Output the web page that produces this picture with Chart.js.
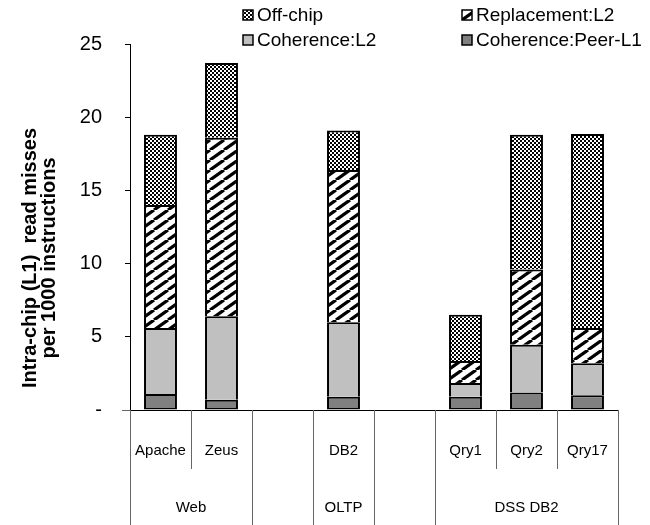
<!DOCTYPE html>
<html lang="en">
<head>
    <meta charset="UTF-8">
    <title>Intra-chip read misses</title>
    <script src="https://cdn.jsdelivr.net/npm/chart.js"></script>
    <style>
        body { margin: 0; background: #fff; }
        #wrap { width: 650px; height: 525px; }
    </style>
</head>
<body>
    <div id="wrap"><canvas id="missChart"></canvas></div>
    <script>
        // categories (blank slots separate the workload groups)
        const categories = ['Apache', 'Zeus', '', 'DB2', '', 'Qry1', 'Qry2', 'Qry17'];
        const groupLabels = ['Web', '', 'OLTP', '', 'DSS DB2'];
        const groupSpans = [2, 1, 1, 1, 3];

        // stacked segments, bottom to top
        const peerL1 = [1.1, 0.7, null, 0.9, null, 0.9, 1.2, 1.0];
        const coherenceL2 = [4.5, 5.7, null, 5.1, null, 0.95, 3.25, 2.2];
        const replacementL2 = [8.4, 12.2, null, 10.4, null, 1.5, 5.15, 2.4];
        const offChip = [4.8, 5.1, null, 2.7, null, 3.15, 9.2, 13.25];

        const yTicks = [0, 5, 10, 15, 20, 25];

        const FONT = "'Liberation Sans', Arial, sans-serif";

        // fill patterns
        function checkerPattern() {
            const c = document.createElement('canvas');
            c.width = 4; c.height = 4;
            const g = c.getContext('2d');
            g.fillStyle = '#fff';
            g.fillRect(0, 0, 4, 4);
            g.fillStyle = '#000';
            g.fillRect(0, 0, 2, 2);
            g.fillRect(2, 2, 2, 2);
            return g.createPattern(c, 'repeat');
        }

        function stripePattern() {
            const w = 14, h = 10;
            const c = document.createElement('canvas');
            c.width = w; c.height = h;
            const g = c.getContext('2d');
            g.fillStyle = '#fff';
            g.fillRect(0, 0, w, h);
            g.strokeStyle = '#000';
            g.lineWidth = 3.2;
            for (const off of [-w, 0, w]) {
                g.beginPath();
                g.moveTo(off, h);
                g.lineTo(off + w, 0);
                g.stroke();
            }
            return g.createPattern(c, 'repeat');
        }

        const checker = checkerPattern();
        const stripes = stripePattern();

        // legend drawn in two columns like the original
        const legendPlugin = {
            id: 'twoColLegend',
            afterDraw(chart) {
                const ctx = chart.ctx;
                const items = [
                    { text: 'Off-chip', fill: checker, x: 243, y: 15 },
                    { text: 'Replacement:L2', fill: stripes, x: 462, y: 15 },
                    { text: 'Coherence:L2', fill: '#c0c0c0', x: 243, y: 40 },
                    { text: 'Coherence:Peer-L1', fill: '#808080', x: 462, y: 40 }
                ];
                ctx.save();
                ctx.font = '19px ' + FONT;
                ctx.textBaseline = 'middle';
                ctx.textAlign = 'left';
                items.forEach(it => {
                    ctx.fillStyle = it.fill;
                    ctx.fillRect(it.x, it.y - 5, 10, 10);
                    ctx.strokeStyle = '#000';
                    ctx.lineWidth = 1.5;
                    ctx.strokeRect(it.x, it.y - 5, 10, 10);
                    ctx.fillStyle = '#000';
                    ctx.fillText(it.text, it.x + 14, it.y + 1);
                });
                ctx.restore();
            }
        };

        // two-level category axis + y title
        const axisPlugin = {
            id: 'groupAxis',
            afterDraw(chart) {
                const ctx = chart.ctx;
                const xs = chart.scales.x;
                const area = chart.chartArea;
                const n = categories.length;
                const slot = (xs.right - xs.left) / n;
                const bottom = area.bottom;

                ctx.save();
                ctx.strokeStyle = '#666';
                ctx.lineWidth = 1;

                // x axis line runs a little past the y axis
                ctx.beginPath();
                ctx.moveTo(122, bottom + 0.5);
                ctx.lineTo(xs.left, bottom + 0.5);
                ctx.stroke();

                // which edges are group boundaries
                const fullEdges = new Set([0]);
                let acc = 0;
                groupSpans.forEach(s => { acc += s; fullEdges.add(acc); });

                for (let e = 0; e <= n; e++) {
                    const x = Math.round(xs.left + e * slot) + 0.5;
                    ctx.beginPath();
                    ctx.moveTo(x, bottom);
                    ctx.lineTo(x, fullEdges.has(e) ? 525 : bottom + 59);
                    ctx.stroke();
                }

                ctx.fillStyle = '#000';
                ctx.textAlign = 'center';
                ctx.textBaseline = 'middle';
                ctx.font = '15px ' + FONT;
                categories.forEach((c, i) => {
                    if (c) ctx.fillText(c, xs.getPixelForValue(i), bottom + 41);
                });

                let start = 0;
                groupLabels.forEach((g, i) => {
                    const mid = xs.left + (start + groupSpans[i] / 2) * slot;
                    if (g) ctx.fillText(g, mid, bottom + 98);
                    start += groupSpans[i];
                });

                // y-axis title
                ctx.translate(39, 258);
                ctx.rotate(-Math.PI / 2);
                ctx.font = 'bold 20px ' + FONT;
                ctx.fillText('Intra-chip (L1)  read misses', 0, -9);
                ctx.fillText('per 1000 instructions', 0, 10);
                ctx.restore();
            }
        };

        function seg(label, data, fill, idx) {
            return {
                label: label,
                data: data,
                backgroundColor: fill,
                borderColor: '#000',
                borderWidth: { top: 2, left: 2, right: 2, bottom: idx === 0 ? 2 : 0 },
                borderSkipped: false,
                stack: 'misses'
            };
        }

        new Chart(document.getElementById('missChart'), {
            type: 'bar',
            data: {
                labels: categories,
                datasets: [
                    seg('Coherence:Peer-L1', peerL1, '#808080', 0),
                    seg('Coherence:L2', coherenceL2, '#c0c0c0', 1),
                    seg('Replacement:L2', replacementL2, stripes, 2),
                    seg('Off-chip', offChip, checker, 3)
                ]
            },
            options: {
                responsive: true,
                maintainAspectRatio: false,
                animation: false,
                categoryPercentage: 1.0,
                barPercentage: 0.54,
                layout: { padding: { top: 44, bottom: 107, right: 32, left: 0 } },
                plugins: {
                    legend: { display: false },
                    tooltip: { enabled: false }
                },
                scales: {
                    x: {
                        stacked: true,
                        grid: { display: false },
                        border: { display: true, color: '#000', width: 1 },
                        ticks: { display: false }
                    },
                    y: {
                        stacked: true,
                        min: 0,
                        max: 25,
                        afterFit(scale) { scale.width = 130; },
                        afterBuildTicks(scale) {
                            scale.ticks = yTicks.map(v => ({ value: v }));
                        },
                        grid: {
                            drawOnChartArea: false,
                            drawTicks: true,
                            tickLength: 5,
                            color: '#000'
                        },
                        border: { display: true, color: '#000', width: 1 },
                        ticks: {
                            padding: 23,
                            color: '#000',
                            font: { family: FONT, size: 20 },
                            callback: v => v === 0 ? '-' : v
                        }
                    }
                }
            },
            plugins: [legendPlugin, axisPlugin]
        });
    </script>
</body>
</html>
